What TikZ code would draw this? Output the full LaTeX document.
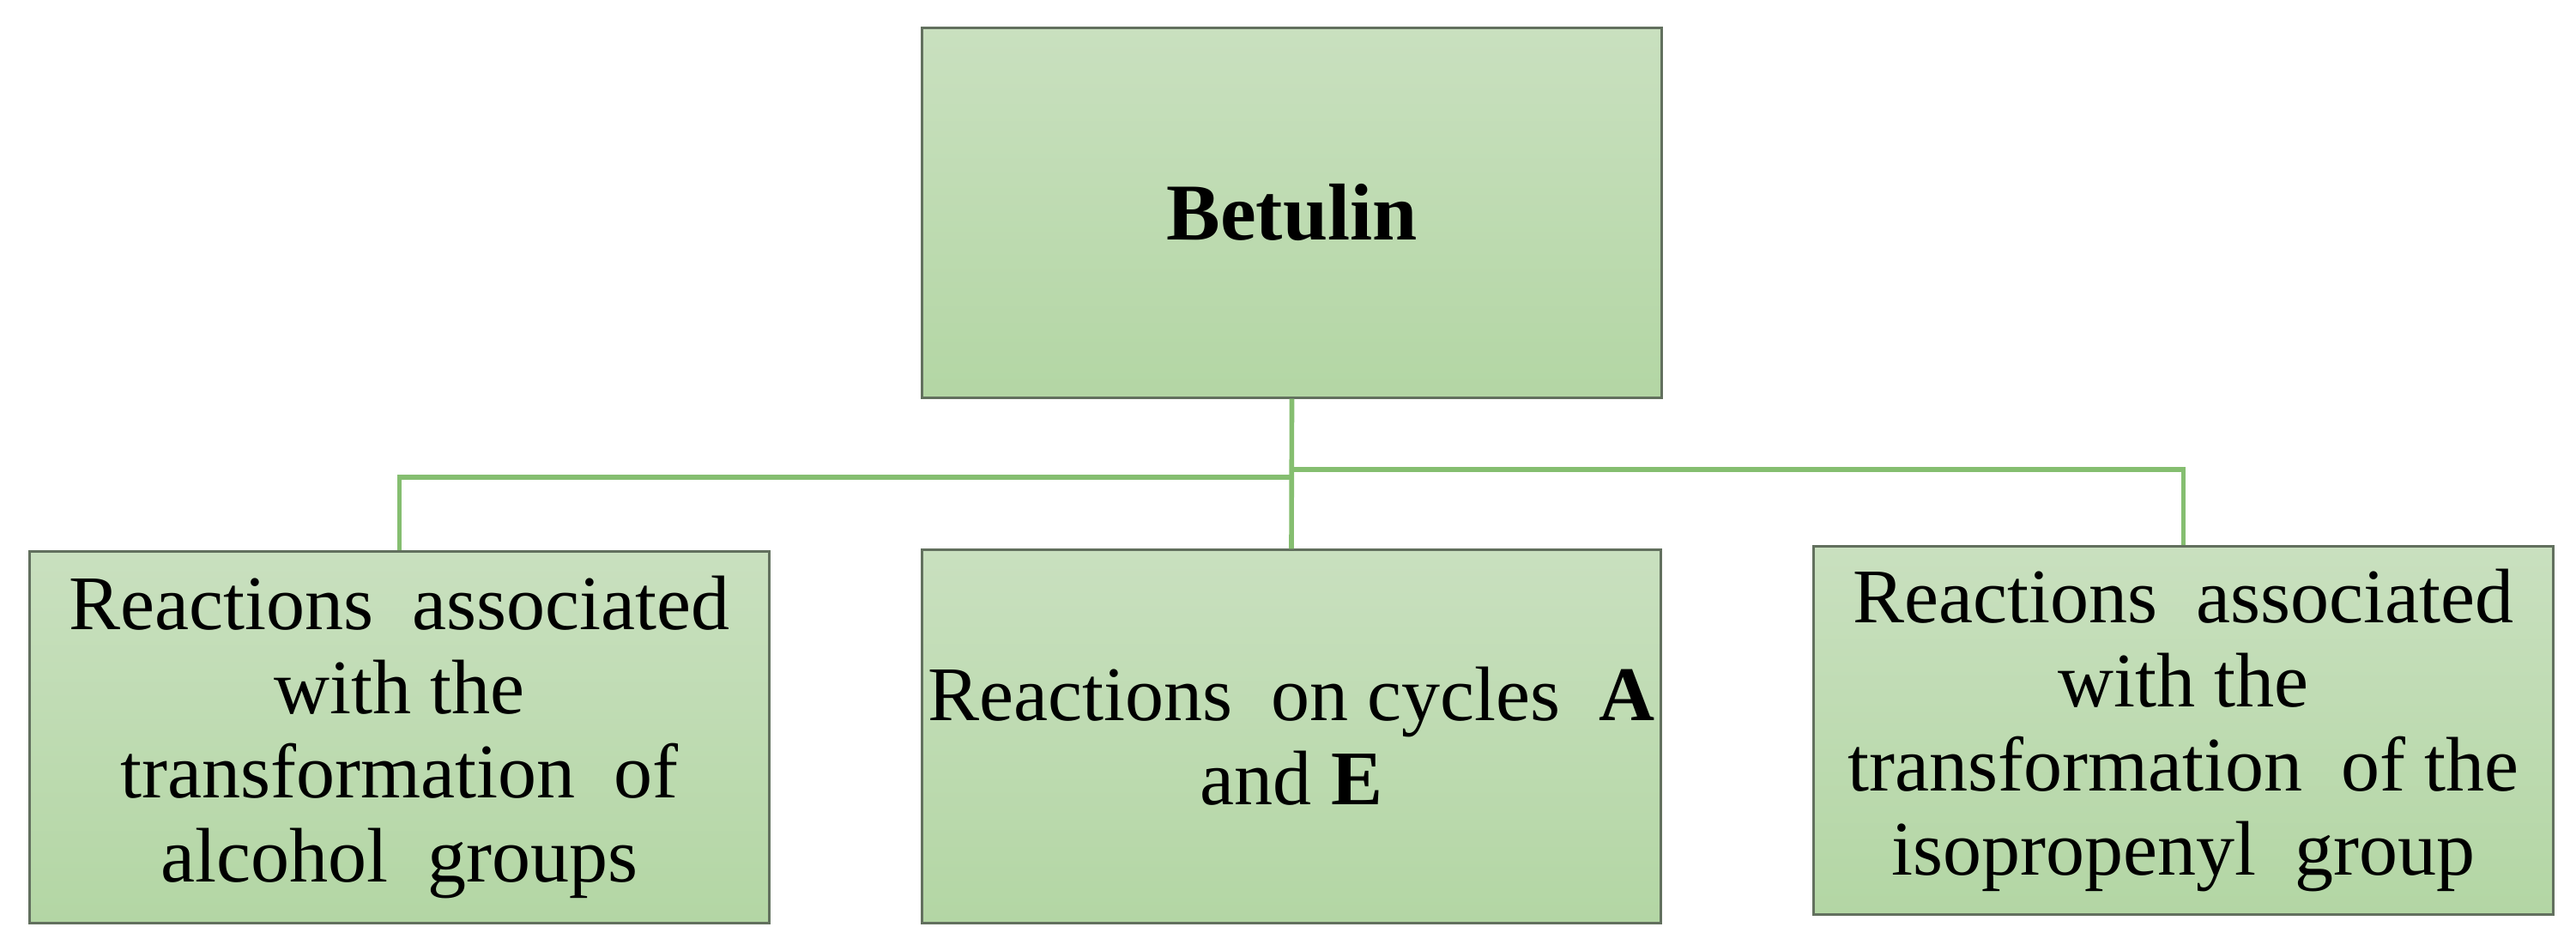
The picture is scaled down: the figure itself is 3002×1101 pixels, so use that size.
\documentclass[tikz,border=0pt]{standalone}
\usepackage{fontspec}
\setmainfont{Liberation Serif}
\definecolor{boxtop}{RGB}{201,224,191}
\definecolor{boxbot}{RGB}{179,214,164}
\definecolor{boxline}{RGB}{98,112,94}
\definecolor{conn}{RGB}{133,190,112}
\newcommand\wsp{\hspace{0.25em}}
\begin{document}
\begin{tikzpicture}[x=0.01cm,y=-0.01cm,
  box/.style={draw=boxline, line width=0.8pt, top color=boxtop, bottom color=boxbot,
    minimum width=8.61cm, inner sep=0pt, align=center, text=black,
    font=\fontsize{25.6pt}{27.9pt}\selectfont},
  link/.style={draw=conn, line width=1.6pt}]
\useasboundingbox (0,0) rectangle (3002,1101);
\node[box, minimum height=4.30cm, font=\bfseries\fontsize{26.7pt}{30pt}\selectfont] (top) at (1505.5,248) {Betulin};
\node[box, minimum height=4.32cm] (left) at (465.5,859)
  {Reactions \wsp associated\\with the\\transformation \wsp of\\alcohol \wsp groups};
\node[box, minimum height=4.34cm] (mid) at (1505,858)
  {Reactions \wsp on cycles \wsp\textbf{A}\\and \textbf{E}};
\node[box, minimum height=4.28cm] (right) at (2544.5,851)
  {Reactions \wsp associated\\with the\\transformation \wsp of the\\isopropenyl \wsp group};
\coordinate (jl) at (1505.5,556);
\coordinate (jr) at (1505.5,547);
\draw[link] (top.south) -- (mid.north);
\draw[link] (left.north) |- (jl);
\draw[link] (right.north) |- (jr);
\end{tikzpicture}
\end{document}
